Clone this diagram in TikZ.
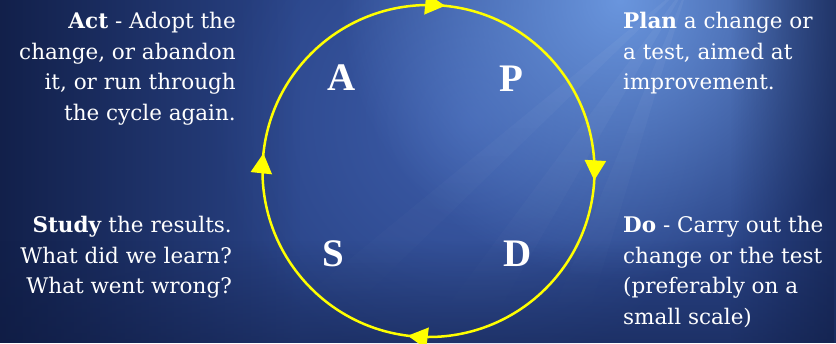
\documentclass[tikz,border=0pt]{standalone}
\usepackage{fontspec}
\newfontfamily\letterfont{Liberation Serif}
\newfontfamily\descfont{DejaVu Serif}
\usetikzlibrary{arrows.meta,decorations.markings,fadings}

\definecolor{bgbase}{HTML}{2A4487}
\definecolor{bgglow}{HTML}{6A96DE}
\definecolor{bgmid}{HTML}{3D5DAA}
\definecolor{bgdark}{HTML}{0E1A40}
\definecolor{ringyellow}{HTML}{FFFF00}
\tikzset{tri/.tip={Triangle[length=20pt,width=21pt]}}
\tikzfading[name=softglow, inner color=transparent!0, outer color=transparent!100]
\tikzfading[name=raysoft, top color=transparent!0, bottom color=transparent!100]

\begin{document}
\begin{tikzpicture}[x=1pt,y=-1pt,
  desc/.style={text=white, inner sep=0pt, font=\descfont\fontsize{21.5}{30.5}\selectfont},
  letter/.style={text=white, inner sep=0pt, font=\letterfont\bfseries\fontsize{39}{39}\selectfont},
  ray/.style={white, opacity=0.05, path fading=raysoft},
  ring/.style={draw=ringyellow, line width=2.5pt, postaction={decorate},
    decoration={markings,
      mark=at position 0.009 with {\arrow{tri}},
      mark=at position 0.27 with {\arrow{tri}},
      mark=at position 0.517 with {\arrow{tri}},
      mark=at position 0.766 with {\arrow{tri}}}}]
\useasboundingbox (0,0) rectangle (836,343);
\begin{scope}
  \clip (0,0) rectangle (836,343);
  \fill[bgbase] (0,0) rectangle (836,343);
  \fill[bgmid, path fading=softglow] (470,120) circle (260);
  \fill[bgglow, path fading=softglow] (620,0) circle (280);
  \fill[ray] (690,-20) -- (420,343) -- (480,343) -- cycle;
  \fill[ray] (690,-20) -- (540,343) -- (580,343) -- cycle;
  \fill[ray] (690,-20) -- (300,300) -- (330,330) -- cycle;
  \fill[bgdark, path fading=east, opacity=0.85] (0,0) rectangle (300,343);
  \fill[bgdark, path fading=west, opacity=0.55] (730,0) rectangle (836,343);
  \fill[bgdark, path fading=north, opacity=0.45] (0,240) rectangle (836,343);
\end{scope}

\coordinate (c) at (428.5,171);
\draw[ring] (c) circle[radius=166];

\node[letter] (A) at (342,78) {A};
\node[letter] (P) at (511,79) {P};
\node[letter] (S) at (333,254) {S};
\node[letter] (D) at (518,254) {D};

\node[desc, align=right, anchor=north east] (act) at (236,12)
  {\textbf{Act} - Adopt the\\change, or abandon\\it, or run through\\the cycle again.};
\node[desc, align=right, anchor=north east] (study) at (232,216)
  {\textbf{Study} the results.\\What did we learn?\\What went wrong?};
\node[desc, align=left, anchor=north west] (plan) at (623,12)
  {\textbf{Plan} a change or\\a test, aimed at\\improvement.};
\node[desc, align=left, anchor=north west] (do) at (623,216)
  {\textbf{Do} - Carry out the\\change or the test\\(preferably on a\\small scale)};
\end{tikzpicture}
\end{document}
